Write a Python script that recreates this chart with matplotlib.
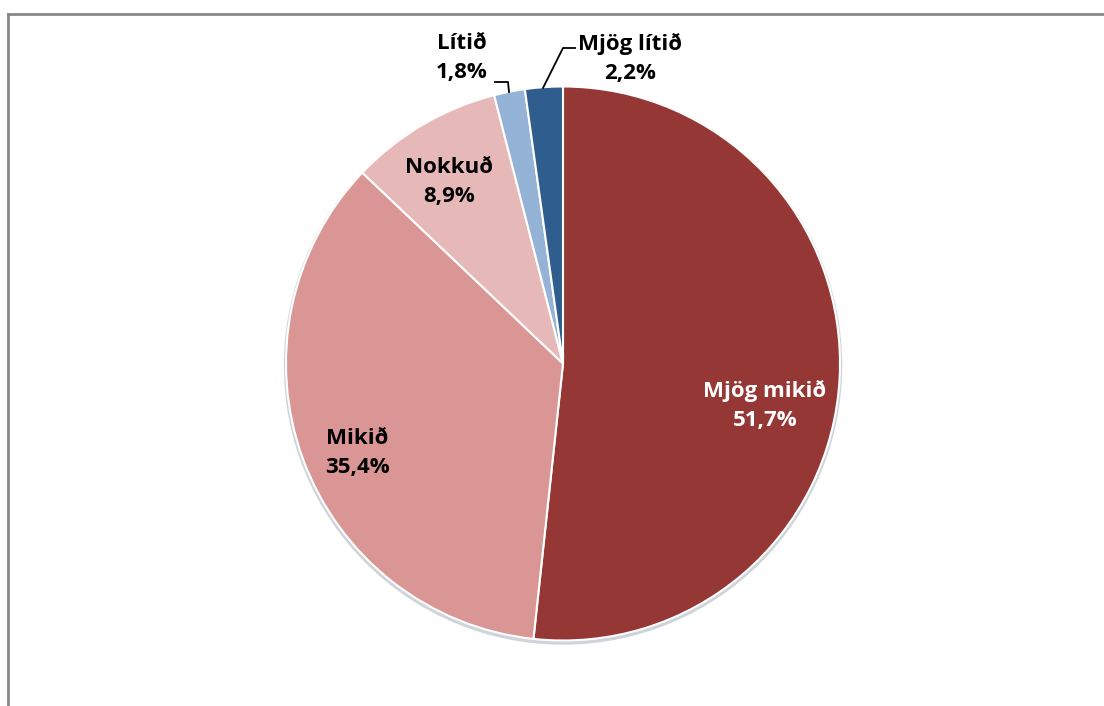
import matplotlib.pyplot as plt
from matplotlib.lines import Line2D

# data, clockwise from 12 o'clock
labels = ['Mjög mikið', 'Mikið', 'Nokkuð', 'Lítið', 'Mjög lítið']
values = [51.7, 35.4, 8.9, 1.8, 2.2]
colors = ['#953735', '#D99694', '#E6B9B8', '#95B3D7', '#2F5D8E']
txtcol = ['white', 'black', 'black', 'black', 'black']

H = 706  # work in pixel coords, y flipped by hand
fig = plt.figure(figsize=(11.04, 7.06), dpi=100)
ax = fig.add_axes([0, 0, 1, 1])

cx, cy, r = 563, H - 363.5, 277
# faint shadow ring
ax.add_patch(plt.Circle((cx, cy - 2), r + 1.5, color='#cfd3da', zorder=1))
wedges, _ = ax.pie(values, colors=colors, startangle=90, counterclock=False,
                   center=(cx, cy), radius=r, frame=True,
                   wedgeprops=dict(edgecolor='white', linewidth=1.5))
for w in wedges:
    w.set_zorder(2)
ax.set_xlim(0, 1104)
ax.set_ylim(0, H)
ax.set_aspect('auto')
ax.axis('off')

# label positions (pixel coords, from top) -- placed by hand
pos = [(765, 405), (357, 453), (449, 182), (462, 58), (630, 58)]
for lab, v, (x, y), tc in zip(labels, values, pos, txtcol):
    s = lab + '\n' + ('%.1f%%' % v).replace('.', ',')
    ax.text(x, H - y, s, ha='center', va='center', fontsize=16,
            fontweight='bold', family=['Open Sans', 'DejaVu Sans'], color=tc,
            linespacing=1.5, zorder=5)

# leader lines
ax.add_line(Line2D([495, 508, 509], [H - 82, H - 82, H - 92], color='black', lw=1.3, zorder=5))
ax.add_line(Line2D([575, 563, 543], [H - 48, H - 48, H - 88], color='black', lw=1.3, zorder=5))

# chart frame (only top/left visible in the crop)
ax.add_line(Line2D([8, 1104], [H - 14, H - 14], color='#888888', lw=2, zorder=6))
ax.add_line(Line2D([8, 8], [H - 14, 0], color='#888888', lw=2, zorder=6))

fig.savefig('out.png', dpi=100)
